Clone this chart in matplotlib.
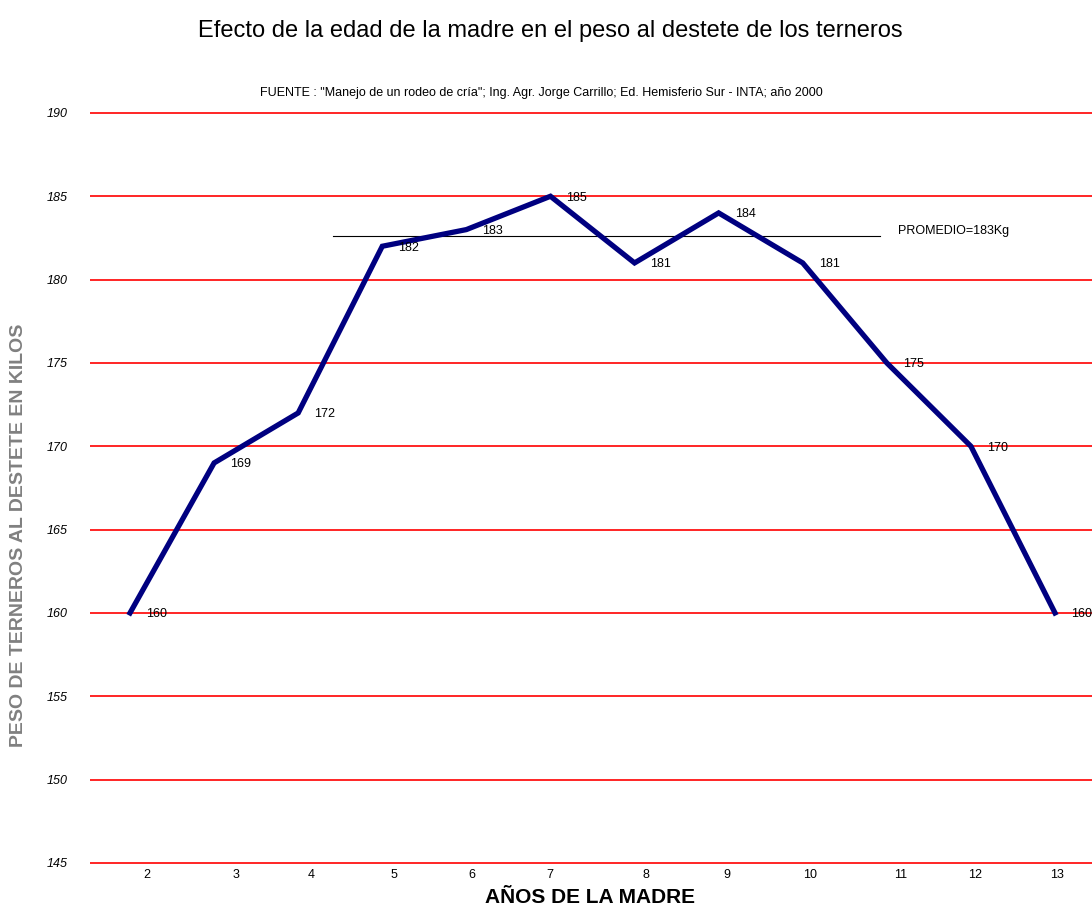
import matplotlib
matplotlib.use('Agg')
import matplotlib.pyplot as plt
import numpy as np

# datos
edades = ['2', '3', '4', '5', '6', '7', '8', '9', '10', '11', '12', '13']
pesos = [160, 169, 172, 182, 183, 185, 181, 184, 181, 175, 170, 160]
promedio = 182.6
promedio_txt = 'PROMEDIO=183Kg'
yticks = [145, 150, 155, 160, 165, 170, 175, 180, 185, 190]

titulo = 'Efecto de la edad de la madre en el peso al destete de los terneros'
fuente = ("FUENTE : \"Manejo de un rodeo de cría\"; Ing. Agr. Jorge Carrillo; "
          "Ed. Hemisferio Sur - INTA; año 2000")

narrow = ['Liberation Sans Narrow', 'Liberation Sans', 'DejaVu Sans']
plt.rcParams['font.family'] = narrow

fig = plt.figure(figsize=(10.92, 9.08), dpi=100)
ax = fig.add_axes([0.0824, 0.0441, 0.9176, 0.8499])

x = np.arange(len(pesos))
ax.plot(x, pesos, color='#000080', lw=3.8, solid_joinstyle='miter', zorder=3)

for xi, p in zip(x, pesos):
    ax.annotate(str(p), (xi, p), xytext=(19, -1), textcoords='offset points',
                ha='center', va='center', fontsize=9, zorder=4)

# linea del promedio
ax.plot([2.41, 8.92], [promedio, promedio], color='black', lw=0.8, zorder=2)
ax.text(9.13, promedio + 0.3, promedio_txt, fontsize=9, va='center', ha='left')

for yv in yticks:
    ax.axhline(yv, color='#ff0000', lw=1.2, zorder=1)

ax.set_xlim(-0.476, 11.44)
ax.set_ylim(144.7, 191)
ax.set_yticks(yticks)
ax.set_yticklabels([str(v) for v in yticks], style='italic', fontsize=9)
# las etiquetas del eje x no caen justo bajo los puntos en el original
ax.set_xticks([0.20, 1.26, 2.15, 3.14, 4.07, 4.99, 6.14, 7.10, 8.09, 9.16, 10.05, 11.02])
ax.set_xticklabels(edades, fontsize=9)
ax.tick_params(axis='both', length=0)
ax.tick_params(axis='y', pad=16)
ax.tick_params(axis='x', pad=1)
for s in ax.spines.values():
    s.set_visible(False)

fig.text(0.504, 0.966, titulo, ha='center', va='center', fontsize=17)
fig.text(0.496, 0.898, fuente, ha='center', va='center', fontsize=9)
fig.text(0.540, 0.012, 'AÑOS DE LA MADRE', ha='center', va='center',
         fontsize=15, fontweight='bold')
fig.text(0.017, 0.41, 'PESO DE TERNEROS AL DESTETE EN KILOS', rotation=90,
         ha='center', va='center', fontsize=14, fontweight='bold', color='#808080',
         family=['Liberation Sans', 'DejaVu Sans'])

fig.savefig('out.png', dpi=100)
